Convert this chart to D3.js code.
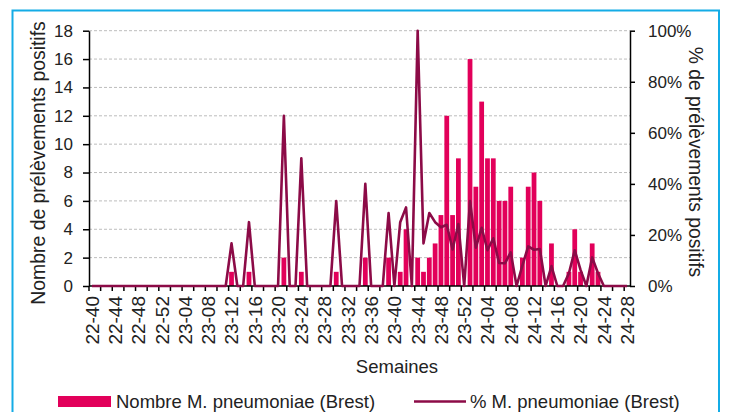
<!DOCTYPE html>
<html>
<head>
<meta charset="utf-8">
<script src="https://cdn.jsdelivr.net/npm/d3@7"></script>
<style>
  body { margin: 0; background: #fff; }
  svg { display: block; font-family: "Liberation Sans", Arial, sans-serif; }
  .grid line { stroke: #bdbdbd; stroke-dasharray: 3 2; }
  .axis path, .axis line { stroke: #000; stroke-width: 1.5; }
</style>
</head>
<body>
<svg width="729" height="412"></svg>
<script>
// weeks 22-40 .. 24-28
const weekRanges = [[22, 40, 52], [23, 1, 52], [24, 1, 28]];
const weeks = [];
weekRanges.forEach(([yr, from, to]) => {
    for (let w = from; w <= to; w++) weeks.push(yr + "-" + String(w).padStart(2, "0"));
});

// number of positive samples, per week
const counts2022 = [0,0,0,0,0,0,0,0,0,0,0,0,0];
const counts2023 = [0,0,0,0,0,0,0,0,0,0,0, 1,0,0,1,0,0,0,0,0, 2,0,0,1,0,0,0,0,0,
                    1,0,0,0,0, 2,0,0,0, 2,0,1,4,0,2,1,2,3,5,12,5,9,0];
const counts2024 = [16,7,13,9,9,6,6,7,0,2,7,8,6,0,3,0,0,1,4,1,0,3,1,0,0,0,0,0];

// % positive samples, per week
const pct2022 = [0,0,0,0,0,0,0,0,0,0,0,0,0];
const pct2023 = [0,0,0,0,0,0,0,0,0,0,0, 16.7,0,0,25,0,0,0,0,0, 66.7,0,0,50,0,0,0,0,0,
                 33.3,0,0,0,0, 40,0,0,0, 28.6,0,25,30.8,0,100,16.7,28.6,25,23,24,14.3,24.3,0];
const pct2024 = [33.3,15,22.8,14,18.7,9,8.9,13.2,0,8,15.5,14.2,14.5,0,7.8,0,0,5,14,6.3,0,11.2,5,0,0,0,0,0];

const leftTicks = [0, 2, 4, 6, 8, 10, 12, 14, 16, 18];
const rightTicks = [0, 20, 40, 60, 80, 100];

function drawChart() {
    const counts = counts2022.concat(counts2023, counts2024);
    const pcts = pct2022.concat(pct2023, pct2024);
    const data = weeks.map((w, i) => ({ week: w, n: counts[i], pct: pcts[i] }));

    const svg = d3.select("svg");
    const x0 = 89, x1 = 630, yTop = 30.7, yBottom = 286;
    const barColor = "#e2005a", lineColor = "#8c0b47";

    // frame
    svg.append("rect")
        .attr("x", 12.5).attr("y", 10.5)
        .attr("width", 706.5).attr("height", 420)
        .attr("fill", "none")
        .attr("stroke", "#14ace6")
        .attr("stroke-width", 2);

    const x = d3.scaleBand().domain(weeks).range([x0, x1]).padding(0);
    const bw = x.bandwidth();
    const y = d3.scaleLinear().domain([0, 18]).range([yBottom, yTop]);
    const yPct = d3.scaleLinear().domain([0, 100]).range([yBottom, yTop]);

    // gridlines
    svg.append("g")
        .attr("class", "grid")
        .selectAll("line")
        .data(leftTicks.filter(d => d > 0))
        .enter().append("line")
        .attr("x1", x0).attr("x2", x1)
        .attr("y1", d => y(d)).attr("y2", d => y(d));

    // bars
    svg.append("g")
        .selectAll("rect")
        .data(data.filter(d => d.n > 0))
        .enter().append("rect")
        .attr("x", d => x(d.week) + bw * 0.09)
        .attr("width", bw * 0.82)
        .attr("y", d => y(d.n))
        .attr("height", d => yBottom - y(d.n))
        .attr("fill", barColor);

    // x axis: ticks every 2 weeks, labels every 4
    const xAxis = svg.append("g").attr("class", "axis");
    xAxis.append("line")
        .attr("x1", x0).attr("x2", x1)
        .attr("y1", yBottom).attr("y2", yBottom);
    xAxis.selectAll(".tk")
        .data(weeks.filter((d, i) => i % 2 === 0))
        .enter().append("line")
        .attr("class", "tk")
        .attr("x1", d => x(d)).attr("x2", d => x(d))
        .attr("y1", yBottom).attr("y2", yBottom + 5);

    svg.append("g")
        .attr("transform", `translate(0,${yBottom})`)
        .call(d3.axisBottom(x).tickValues(weeks.filter((d, i) => i % 4 === 0)).tickSize(0))
        .call(g => g.select(".domain").remove())
        .selectAll("text")
        .attr("transform", "rotate(-90)")
        .attr("x", -10).attr("y", 0).attr("dy", "0.36em")
        .style("text-anchor", "end")
        .style("font-size", "19px")
        .style("font-family", "Liberation Sans, Arial, sans-serif")
        .attr("fill", "#222");

    // left axis
    svg.append("g")
        .attr("class", "axis")
        .attr("transform", `translate(${x0},0)`)
        .call(d3.axisLeft(y).tickValues(leftTicks).tickSize(6).tickSizeOuter(0).tickPadding(10))
        .selectAll("text")
        .style("font-size", "17px")
        .style("font-family", "Liberation Sans, Arial, sans-serif")
        .attr("fill", "#222");

    // right axis
    svg.append("g")
        .attr("class", "axis")
        .attr("transform", `translate(${x1},0)`)
        .call(d3.axisRight(yPct).tickValues(rightTicks).tickFormat(d => d + "%").tickSize(5).tickSizeOuter(0).tickPadding(13))
        .selectAll("text")
        .style("font-size", "17px")
        .style("font-family", "Liberation Sans, Arial, sans-serif")
        .attr("fill", "#222");

    // % line
    const line = d3.line()
        .x(d => x(d.week) + bw / 2)
        .y(d => yPct(d.pct));

    svg.append("path")
        .datum(data)
        .attr("d", line)
        .attr("fill", "none")
        .attr("stroke", lineColor)
        .attr("stroke-width", 2.6)
        .attr("stroke-linejoin", "round");

    // titles
    svg.append("text")
        .attr("transform", "translate(45,163) rotate(-90)")
        .attr("text-anchor", "middle")
        .style("font-size", "19.4px")
        .attr("fill", "#222")
        .text("Nombre de prélèvements positifs");

    svg.append("text")
        .attr("transform", "translate(689,162) rotate(90)")
        .attr("text-anchor", "middle")
        .style("font-size", "19.3px")
        .attr("fill", "#222")
        .text("% de prélèvements positifs");

    svg.append("text")
        .attr("x", 397).attr("y", 373)
        .attr("text-anchor", "middle")
        .style("font-size", "18.5px")
        .attr("fill", "#222")
        .text("Semaines");

    // legend
    const legend = svg.append("g");
    legend.append("rect")
        .attr("x", 58).attr("y", 396)
        .attr("width", 53).attr("height", 11)
        .attr("fill", barColor);
    legend.append("text")
        .attr("x", 116).attr("y", 408)
        .style("font-size", "18.5px")
        .attr("fill", "#222")
        .text("Nombre M. pneumoniae (Brest)");
    legend.append("line")
        .attr("x1", 414).attr("x2", 466)
        .attr("y1", 401.5).attr("y2", 401.5)
        .attr("stroke", lineColor)
        .attr("stroke-width", 2.6);
    legend.append("text")
        .attr("x", 470).attr("y", 408)
        .style("font-size", "18.5px")
        .attr("fill", "#222")
        .text("% M. pneumoniae (Brest)");
}

drawChart();
</script>
</body>
</html>
